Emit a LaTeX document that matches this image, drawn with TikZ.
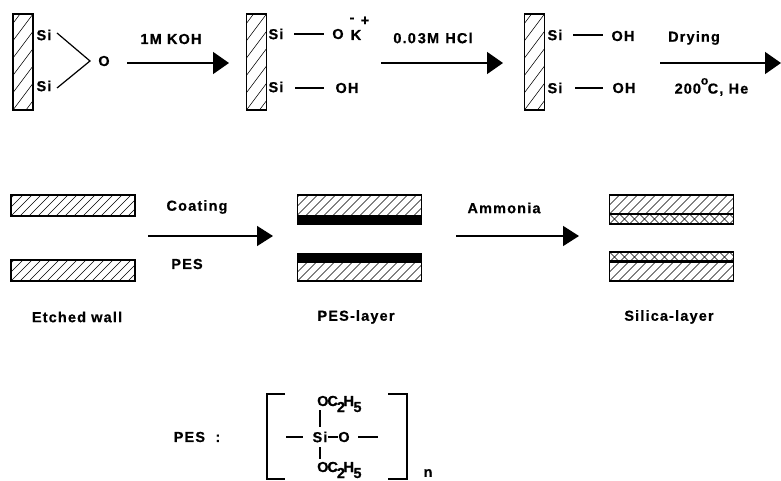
\documentclass[tikz,border=0pt]{standalone}
\usepackage{fontspec}
\setmainfont[LetterSpace=8,BoldFeatures={FakeBold=0.6}]{Liberation Sans}
\usetikzlibrary{arrows.meta}
\newcommand{\hatchlines}[2]{%
  \foreach \i in {-30,...,30}{
    \draw[line width=0.55pt] ([xshift=\i*#1]path picture bounding box.south west) -- ++(#2*150pt,150pt);
  }}
\tikzset{
  x=1pt,y=-1pt,
  txt/.style={inner sep=0pt,font=\fontsize{14.5}{16}\selectfont\bfseries},
  wallv/.style={draw,line width=1.7pt,inner sep=0pt,path picture={\hatchlines{13pt}{0.75}}},
  wallh/.style={draw,line width=1.6pt,inner sep=0pt,path picture={\hatchlines{9pt}{1}}},
  coat/.style={draw,fill=black,line width=1pt,inner sep=0pt},
  silica/.style={draw,line width=1.3pt,inner sep=0pt,path picture={\hatchlines{10pt}{1}\hatchlines{10pt}{-1}}},
  bond/.style={line width=1.2pt},
  arr/.style={line width=1.5pt,-{Triangle[length=16pt,width=22pt]}},
  brk/.style={line width=1.3pt},
}
\newcommand{\oce}{O\kern-1pt C\kern-1pt\raisebox{-6pt}{2}\kern-1.5pt H\kern-0.5pt\raisebox{-6pt}{5}}
\begin{document}
\begin{tikzpicture}
\useasboundingbox (0,0) rectangle (781,481);
% top row walls
\node[wallv,minimum width=20pt,minimum height=96pt] (w1) at (23,62) {};
\node[wallv,minimum width=20pt,minimum height=96pt] (w2) at (256.5,62) {};
\node[wallv,minimum width=20pt,minimum height=96pt] (w3) at (534.5,62) {};
% state 1
\node[txt] (s1a) at (44,35) {Si};
\node[txt] (s1b) at (44,86) {Si};
\node[txt] (o1) at (104,61) {O};
\coordinate (a1) at (57,33);
\coordinate (a2) at (90,61);
\coordinate (a3) at (57,88);
\draw[bond] (a1) -- (a2) -- (a3);
% arrow 1
\coordinate (ar1s) at (127,63);
\coordinate (ar1e) at (229,63);
\draw[arr] (ar1s) -- (ar1e);
\node[txt] (koh) at (171,39) {1M KOH};
% state 2
\node[txt] (s2a) at (276,34) {Si};
\node[txt] (s2b) at (276,87) {Si};
\node[txt] (o2) at (338,34) {O};
\node[txt] (k2) at (356,35) {K};
\node[txt] (minus) at (352,20) {-};
\node[txt] (plus) at (365,21) {+};
\node[txt] (oh2) at (347,88) {OH};
\coordinate (c1) at (294,34);
\coordinate (c2) at (324,34);
\coordinate (c3) at (295,88);
\coordinate (c4) at (324,88);
\draw[bond] (c1) -- (c2);
\draw[bond] (c3) -- (c4);
% arrow 2
\coordinate (ar2s) at (381,63);
\coordinate (ar2e) at (503,63);
\draw[arr] (ar2s) -- (ar2e);
\node[txt] (hcl) at (433,38) {0.0\kern2pt 3M\kern1pt\ HCl};
% state 3
\node[txt] (s3a) at (555,35) {Si};
\node[txt] (s3b) at (555,88) {Si};
\node[txt] (oh3a) at (623,36) {OH};
\node[txt] (oh3b) at (624,88) {OH};
\coordinate (d1) at (573,35);
\coordinate (d2) at (603,35);
\coordinate (d3) at (575,88);
\coordinate (d4) at (603,88);
\draw[bond] (d1) -- (d2);
\draw[bond] (d3) -- (d4);
% arrow 3
\coordinate (ar3s) at (660,63);
\coordinate (ar3e) at (781,63);
\draw[arr] (ar3s) -- (ar3e);
\node[txt] (dry) at (694,38) {Drying};
\node[txt] (temp) at (711.5,87) {2\kern1pt 0\kern1pt 0\raisebox{9pt}{\fontsize{12}{12}\selectfont o}\kern-0.5pt C, He};
% middle row
\node[wallh,minimum width=124pt,minimum height=21pt] (e1) at (73,205.5) {};
\node[wallh,minimum width=124pt,minimum height=21pt] (e2) at (73,270.5) {};
\node[wallh,minimum width=124pt,minimum height=29pt] (p1) at (359.5,209.5) {};
\node[coat,minimum width=124pt,minimum height=9pt] (pc1) at (359.5,220) {};
\node[wallh,minimum width=124pt,minimum height=27pt] (p2) at (359.5,267.5) {};
\node[coat,minimum width=124pt,minimum height=9pt] (pc2) at (359.5,258) {};
\node[wallh,minimum width=124pt,minimum height=19pt] (q1) at (671.5,204.5) {};
\node[silica,minimum width=124pt,minimum height=10pt] (qc1) at (671.5,219) {};
\node[silica,minimum width=124pt,minimum height=10pt] (qc2) at (671.5,257) {};
\node[wallh,minimum width=124pt,minimum height=20pt] (q2) at (671.5,271) {};
\coordinate (ar4s) at (148,236);
\coordinate (ar4e) at (273,236);
\draw[arr,line width=1.3pt,-{Triangle[length=16pt,width=20pt]}] (ar4s) -- (ar4e);
\coordinate (ar5s) at (456,236);
\coordinate (ar5e) at (579,236);
\draw[arr,-{Triangle[length=16pt,width=20pt]}] (ar5s) -- (ar5e);
\node[txt] (coating) at (197,207) {Coating};
\node[txt] (pes) at (187,264) {PES};
\node[txt] (amm) at (504,208) {Ammonia};
\node[txt] (lab1) at (77,317) {Etched wall};
\node[txt] (lab2) at (356,317) {PES-layer};
\node[txt] (lab3) at (669,317) {Silica-layer};
% formula
\node[txt] (pesl) at (197,437) {PES\ \ :};
\node[txt] (si) at (320,437) {Si};
\node[txt] (oo) at (344,437) {O};
\node[txt,anchor=base west] (top) at (317,406) {\oce};
\node[txt,anchor=base west] (bot) at (317,472) {\oce};
\node[txt] (n) at (428,473) {n};
\coordinate (t1) at (320,410);
\coordinate (t2) at (320,427);
\coordinate (u1) at (320,447);
\coordinate (u2) at (320,459);
\draw[bond] (t1) -- (t2);
\draw[bond] (u1) -- (u2);
\draw[bond] (si.east) -- (oo.west);
\coordinate (l1) at (286,437);
\coordinate (l2) at (303,437);
\coordinate (r1) at (358,437);
\coordinate (r2) at (378,437);
\draw[bond] (l1) -- (l2);
\draw[bond] (r1) -- (r2);
\coordinate (bl1) at (285,394);
\coordinate (bl2) at (267,394);
\coordinate (bl3) at (267,479);
\coordinate (bl4) at (285,479);
\draw[brk] (bl1) -- (bl2) -- (bl3) -- (bl4);
\coordinate (br1) at (388,394);
\coordinate (br2) at (407,394);
\coordinate (br3) at (407,479);
\coordinate (br4) at (388,479);
\draw[brk] (br1) -- (br2) -- (br3) -- (br4);
\end{tikzpicture}
\end{document}
